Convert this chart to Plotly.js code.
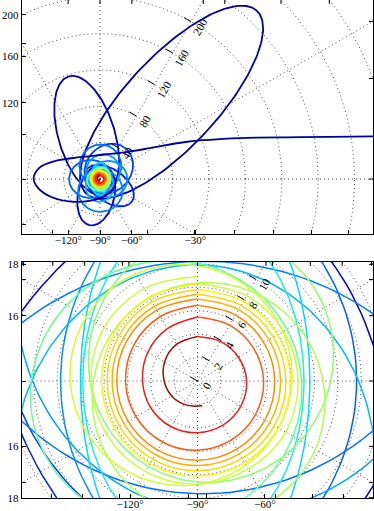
<!DOCTYPE html>
<html><head><meta charset="utf-8">
<script src="https://cdn.plot.ly/plotly-3.0.1.min.js"></script>
<style>html,body{margin:0;padding:0;background:#fff;}#chart{width:374px;height:511px;}</style>
</head><body><div id="chart"></div>
<script>
// ---- grid / axis values ----
const angleGridDeg = [0,30,60,90,120,150,180,210,240,270,300,330];
const ringsTop = [40,80,120,160,200,240,280,320,360];
const ringsBottom = [2,4,6,8,10,12,14,16,18];
const floatLabelsTop = [40,80,120,160,200];
const floatLabelsBottom = [0,2,4,6,8,10];
const floatAxisAngle = 60;
const angleLabels = [-150,-120,-90,-60,-30];

// ---- inner spiral (theta in degrees, radius) ----
const spiralTheta = [
  [-79,-100,-120,-150,-180,-210,-240,-270],
  [-270,-300,-330,-360,-390,-420,-450,-480,-510,-540,-570,-600,-630],
  [-630,-660,-690,-720,-750,-780,-810,-840,-870,-900,-930,-960,-990],
  [-990,-1020,-1050,-1080,-1110,-1140,-1170,-1200,-1230,-1260,-1290,-1320,-1350],
  [-1350,-1380,-1410,-1440,-1470,-1500,-1530,-1560,-1590,-1620,-1650,-1680,-1710],
  [-1710,-1740,-1770,-1800,-1830,-1860,-1890,-1920,-1950,-1980,-2010,-2040,-2070],
  [-2070,-2100,-2130,-2160,-2190,-2220,-2250,-2280,-2310,-2340,-2370,-2400,-2430],
  [-2430,-2460,-2490,-2520,-2550,-2580,-2610,-2640,-2670,-2700,-2730,-2760,-2790]
];
const spiralR = [
  [2.14,2.17,2.3,2.55,2.85,3.25,3.6,3.8],
  [3.8,3.9,4.05,4.2,4.28,4.35,4.4,4.5,4.6,4.7,4.9,5.15,5.45],
  [5.45,5.5,5.55,5.65,5.72,5.8,5.9,6.0,6.08,6.15,6.25,6.35,6.45],
  [6.45,6.5,6.55,6.6,6.65,6.7,6.75,6.8,6.85,6.9,6.95,6.98,7.0],
  [7.0,7.03,7.06,7.1,7.13,7.16,7.2,7.23,7.26,7.3,7.33,7.36,7.4],
  [7.4,7.45,7.5,7.55,7.6,7.62,7.65,7.68,7.7,7.72,7.75,7.78,7.8],
  [7.8,7.85,7.9,7.95,8.0,8.05,8.1,8.12,8.15,8.2,8.22,8.26,8.3],
  [8.3,8.4,8.5,8.6,8.7,8.65,8.8,8.9,9.0,9.1,9.2,9.1,8.9]
];
const spiralColor = ['#9b0d0d','#ec1c1c','#ff5a10','#ff8c00','#ffb300','#ffd800','#f4f810','#c8ff38'];

// ---- orbit loops: direction of far end (deg), far distance, near-side distance, half width ----
const loopDir   = [160,-60,60,200,0,180,-92,68,0,-88,88,180,50,-35,-103,107,47];
const loopFar   = [11,12,13,14.5,9.1,10,25,28,30,36,38,34,44,43,52,118,253];
const loopNear  = [8,8.2,8.4,8.8,9.8,9.6,9.9,10.9,11.7,10.2,9.6,13.6,14,18,16,18,22];
const loopHalfW = [9.4,9.9,10.4,11.2,14,18,15.5,18.6,20,24.5,23,21,25,18,20,31,50];
const loopColor = ['#d4ff2a','#b0ff50','#8cff70','#66ff96','#18f0e0','#00d8ff','#00b8ff','#00a4ff','#0090ff','#0080ff','#0070ff','#0060ff','#0040ff','#0020ee','#0000d0','#0000b4','#00009c'];

// ---- final escaping path (x, y data units) ----
const escapeX = [18,14,0,-27,-53,-68,-73,-66,-49,-22,5,30,55,96,154,220,300,330];
const escapeY = [2,-12,-21,-25,-20,-10,1,13,20,24,27,30,34,41,45,46,47,47];

const D2R = Math.PI/180;
function pol(th, r){ return [r*Math.cos(th*D2R), r*Math.sin(th*D2R)]; }
function loopXY(phi, far, near, b){
  const a=(far+near)/2, c=(far-near)/2, ux=Math.cos(phi*D2R), uy=Math.sin(phi*D2R), xs=[], ys=[];
  for(let k=0;k<=360;k+=2){
    const ca=Math.cos(k*D2R)*a, sb=Math.sin(k*D2R)*b;
    xs.push((c+ca)*ux - sb*uy); ys.push((c+ca)*uy + sb*ux);
  }
  return [xs,ys];
}

const panels = [
  {xa:'x', ya:'y', xr:[-85.8,300.3], yr:[-60.5,196.9], rings:ringsTop, rmax:420, w:1.8, flt:floatLabelsTop, tl:8.8, px:0.911},
  {xa:'x2',ya:'y2',xr:[-15,15],     yr:[-9.97,10.15],  rings:ringsBottom, rmax:25, w:1.5, flt:floatLabelsBottom, tl:0.7, px:11.73}
];

const traces=[], annotations=[], axes={};
const serif = {family:'Liberation Serif, DejaVu Serif, serif', size:11.5, color:'#000'};
const tickFont = {family:'Liberation Serif, DejaVu Serif, serif', size:11, color:'#000'};

panels.forEach((P,pi)=>{
  let gx=[], gy=[];
  P.rings.forEach(r=>{ for(let t=0;t<=360;t+=1){ const c=pol(t,r); gx.push(c[0]); gy.push(c[1]); } gx.push(null); gy.push(null); });
  angleGridDeg.forEach(a=>{ const c=pol(a,P.rmax); gx.push(0,c[0],null); gy.push(0,c[1],null); });
  traces.push({x:gx,y:gy,xaxis:P.xa,yaxis:P.ya,mode:'lines',line:{color:'#505050',width:1,dash:'1px,3px'},hoverinfo:'skip'});

  for(let i=loopDir.length-1;i>=0;i--){
    const xy=loopXY(loopDir[i],loopFar[i],loopNear[i],loopHalfW[i]);
    traces.push({x:xy[0],y:xy[1],xaxis:P.xa,yaxis:P.ya,mode:'lines',line:{color:loopColor[i],width:P.w},hoverinfo:'skip'});
  }
  traces.push({x:escapeX,y:escapeY,xaxis:P.xa,yaxis:P.ya,mode:'lines',line:{color:'#00009c',width:P.w,shape:'spline',smoothing:1},hoverinfo:'skip'});
  for(let s=spiralTheta.length-1;s>=0;s--){
    const xs=[],ys=[];
    spiralTheta[s].forEach((t,k)=>{ const c=pol(t,spiralR[s][k]); xs.push(c[0]); ys.push(c[1]); });
    traces.push({x:xs,y:ys,xaxis:P.xa,yaxis:P.ya,mode:'lines',line:{color:spiralColor[s],width:P.w,shape:'spline',smoothing:1},hoverinfo:'skip'});
  }

  // floating radial axis
  let tx=[],ty=[];
  P.flt.forEach(v=>{
    const c=pol(floatAxisAngle,v);
    tx.push(c[0], c[0]+P.tl*Math.cos(150*D2R), null);
    ty.push(c[1], c[1]+P.tl*Math.sin(150*D2R), null);
    if(!(pi===0 && v===0)) annotations.push({x:c[0],y:c[1],xref:P.xa,yref:P.ya,text:String(v),showarrow:false,textangle:-60,xshift:9,yshift:-5,font:serif});
  });
  // ticks on the right and top edges where grid lines meet them
  const L=4/P.px, xR=P.xr[1], yT=P.yr[1];
  P.rings.forEach(r=>{
    if(r>xR){ const y=Math.sqrt(r*r-xR*xR); [y,-y].forEach(v=>{ if(v>P.yr[0]&&v<P.yr[1]){ tx.push(xR,xR-L,null); ty.push(v,v,null);} }); }
    if(r>yT){ const x=Math.sqrt(r*r-yT*yT); [x,-x].forEach(v=>{ if(v>P.xr[0]&&v<P.xr[1]){ tx.push(v,v,null); ty.push(yT,yT-L,null);} }); }
  });
  angleGridDeg.forEach(a=>{
    const ca=Math.cos(a*D2R), sa=Math.sin(a*D2R);
    if(ca>0.01){ const y=xR*sa/ca; if(y>P.yr[0]&&y<P.yr[1]){ tx.push(xR,xR-L,null); ty.push(y,y,null);} }
    if(sa>0.01){ const x=yT*ca/sa; if(x>P.xr[0]&&x<P.xr[1]){ tx.push(x,x,null); ty.push(yT,yT-L,null);} }
  });
  traces.push({x:tx,y:ty,xaxis:P.xa,yaxis:P.ya,mode:'lines',line:{color:'#000',width:1},hoverinfo:'skip'});

  // bottom and left axis ticks
  const bv=[],bt=[];
  angleLabels.forEach(a=>{ const x=P.yr[0]/Math.tan(a*D2R); if(x>P.xr[0]&&x<P.xr[1]){ bv.push(x); bt.push('\u2212'+Math.abs(a)+'\u00b0'); } });
  P.rings.forEach(r=>{ if(r>Math.abs(P.yr[0])){ const x=Math.sqrt(r*r-P.yr[0]*P.yr[0]); [x,-x].forEach(v=>{ if(v>P.xr[0]&&v<P.xr[1]){ bv.push(v); bt.push(''); } }); } });
  const lv=[],lt=[];
  P.rings.forEach(r=>{ if(r>Math.abs(P.xr[0])){ const y=Math.sqrt(r*r-P.xr[0]*P.xr[0]); [y,-y].forEach(v=>{ if(v>=P.yr[0]-0.05&&v<=P.yr[1]){ lv.push(v); lt.push(String(r)); } }); } });
  angleGridDeg.forEach(a=>{ if(Math.cos(a*D2R)<-0.01){ const y=P.xr[0]*Math.tan(a*D2R); if(y>P.yr[0]&&y<P.yr[1]){ lv.push(y); lt.push(''); } } });

  const common={showgrid:false,zeroline:false,showline:true,linecolor:'#000',linewidth:1.2,mirror:true,ticks:'inside',ticklen:4,tickwidth:1,tickcolor:'#000',tickfont:tickFont,tickmode:'array',fixedrange:true};
  const dom = pi===0 ? [0.53,1] : [0,0.474];
  axes[pi===0?'xaxis':'xaxis2'] = Object.assign({},common,{range:P.xr,domain:[0,1],anchor:P.ya,tickvals:bv,ticktext:bt,ticklabelstandoff:-4});
  axes[pi===0?'yaxis':'yaxis2'] = Object.assign({},common,{range:P.yr,domain:dom,anchor:P.xa,tickvals:lv,ticktext:lt});
});

const layout = Object.assign({
  width:374,height:511,margin:{l:22,r:1,t:0,b:13},showlegend:false,
  paper_bgcolor:'#fff',plot_bgcolor:'#fff',annotations:annotations
},axes);
Plotly.newPlot('chart',traces,layout,{staticPlot:true,displayModeBar:false});
</script></body></html>
